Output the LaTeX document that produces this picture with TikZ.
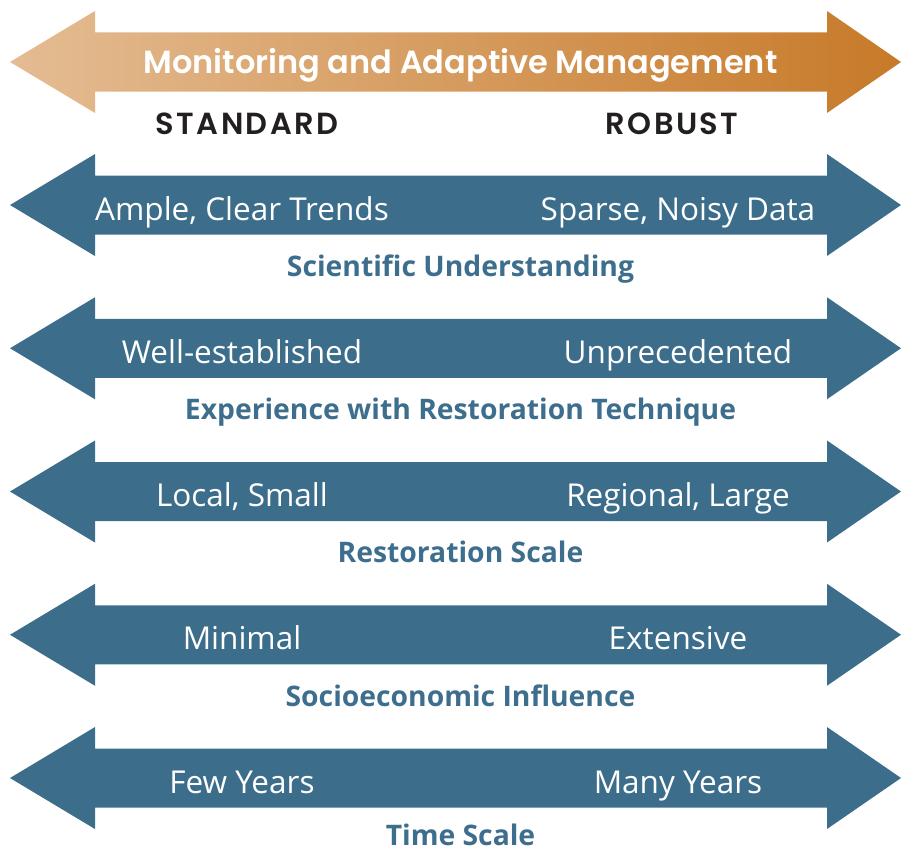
\documentclass[tikz,border=0pt]{standalone}
\usepackage{fontspec}
\newfontfamily\titlefont{Poppins}[BoldFont=* SemiBold]
\newfontfamily\headfont{Poppins}[BoldFont=* SemiBold,LetterSpace=8]
\newfontfamily\bodyfont{Open Sans}
\definecolor{bluearrow}{HTML}{3C6E8C}
\definecolor{bluetext}{HTML}{3E6E8D}
\definecolor{orangeL}{HTML}{E4BC93}
\definecolor{orangeR}{HTML}{C77A29}
\definecolor{darktext}{HTML}{231F20}
\tikzset{
  endlabel/.style={text=white,font=\bodyfont\fontsize{31.5}{34}\selectfont,anchor=base,inner sep=0pt},
  catlabel/.style={text=bluetext,font=\bodyfont\bfseries\fontsize{28.3}{32}\selectfont,anchor=base,inner sep=0pt},
  headlabel/.style={text=darktext,font=\headfont\bfseries\fontsize{30.5}{34}\selectfont,anchor=base,inner sep=0pt},
}
\newcommand{\arrowpath}[1]{(10,#1) -- (95,#1-51) -- (95,#1-29.5) -- (827,#1-29.5) -- (827,#1-51) -- (901,#1) -- (827,#1+51) -- (827,#1+29.5) -- (95,#1+29.5) -- (95,#1+51) -- cycle}
\begin{document}
\begin{tikzpicture}[x=1pt,y=-1pt]
\useasboundingbox (0,0) rectangle (902,851);
% top arrow
\shade[left color=orangeL,right color=orangeR] \arrowpath{62};
\node[text=white,font=\titlefont\bfseries\fontsize{32}{36}\selectfont,anchor=base,inner sep=0pt] (title) at (460.5,74) {Monitoring and Adaptive Management};
\node[headlabel] (standard) at (247,134) {STANDARD};
\node[headlabel] (robust) at (672,134) {ROBUST};
% blue arrows
\foreach \c/\b/\l/\r/\cat [count=\i] in {205/276/{Ample, Clear Trends}/{Sparse, Noisy Data}/{Scientific Understanding},
  348.25/419/{Well-established}/{Unprecedented}/{Experience with Restoration Technique},
  491.5/562/{Local, Small}/{Regional, Large}/{Restoration Scale},
  634.75/706/{Minimal}/{Extensive}/{Socioeconomic Influence},
  778/845/{Few Years}/{Many Years}/{Time Scale}}{
  \fill[bluearrow] \arrowpath{\c};
  \node[endlabel] (left\i) at (242,\c+15) {\l};
  \node[endlabel] (right\i) at (678,\c+15) {\r};
  \node[catlabel] (cat\i) at (460.5,\b) {\cat};
}
\end{tikzpicture}
\end{document}
